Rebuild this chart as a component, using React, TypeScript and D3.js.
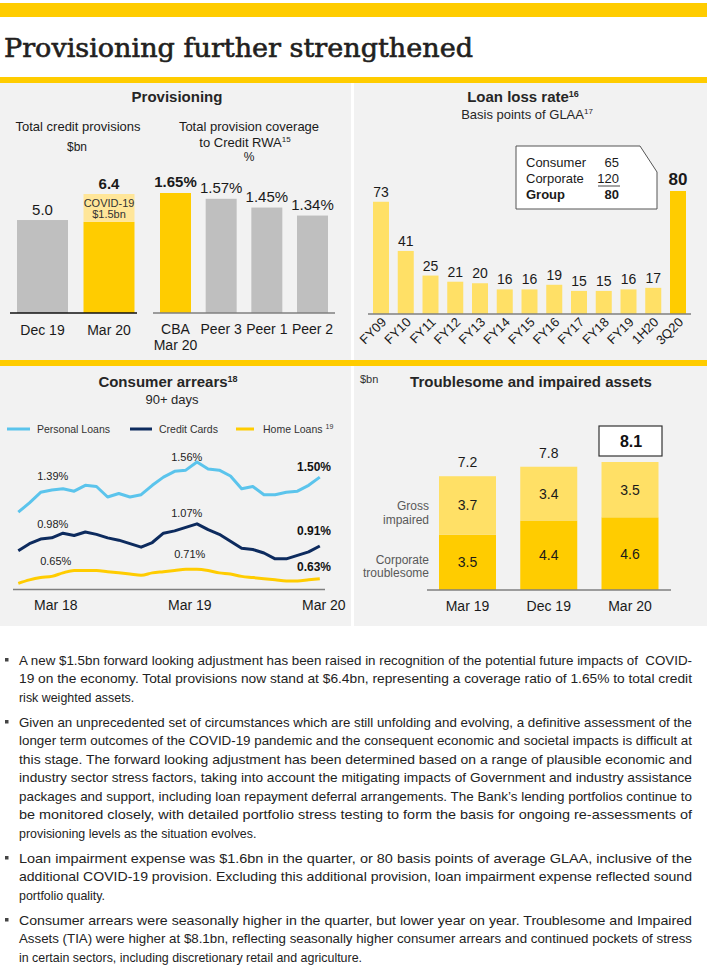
import React from "react";
import * as d3 from "d3";

// ---------- data ----------
const provCats = ["Dec 19", "Mar 20"];
const provCore = [5.0, 4.9];
const provCovid = [0, 1.5];
const provTotalLabels = ["5.0", "6.4"];

const covCats = ["CBA", "Peer 3", "Peer 1", "Peer 2"];
const covValues = [1.65, 1.57, 1.45, 1.34];
const covLabels = ["1.65%", "1.57%", "1.45%", "1.34%"];

const llrCats = ["FY09", "FY10", "FY11", "FY12", "FY13", "FY14", "FY15", "FY16", "FY17", "FY18", "FY19", "1H20", "3Q20"];
const llrValues = [73, 41, 25, 21, 20, 16, 16, 19, 15, 15, 16, 17, 80];

const arrMonths = [
  "Dec 17", "Jan 18", "Feb 18", "Mar 18", "Apr 18", "May 18", "Jun 18", "Jul 18", "Aug 18", "Sep 18", "Oct 18", "Nov 18",
  "Dec 18", "Jan 19", "Feb 19", "Mar 19", "Apr 19", "May 19", "Jun 19", "Jul 19", "Aug 19", "Sep 19", "Oct 19", "Nov 19",
  "Dec 19", "Jan 20", "Feb 20", "Mar 20",
];
const arrTicks = ["Mar 18", "Mar 19", "Mar 20"];
const personalLoans = [1.20, 1.28, 1.37, 1.39, 1.40, 1.38, 1.43, 1.42, 1.33, 1.36, 1.33, 1.35, 1.43, 1.50, 1.55, 1.56, 1.63, 1.57, 1.56, 1.51, 1.40, 1.42, 1.35, 1.35, 1.37, 1.38, 1.43, 1.50];
const creditCards = [0.87, 0.93, 0.97, 0.98, 1.02, 1.00, 1.03, 1.01, 0.98, 0.96, 0.93, 0.90, 0.94, 1.02, 1.04, 1.07, 1.10, 1.05, 1.01, 0.95, 0.89, 0.88, 0.85, 0.80, 0.80, 0.83, 0.86, 0.91];
const homeLoans = [0.59, 0.62, 0.64, 0.65, 0.68, 0.70, 0.70, 0.70, 0.69, 0.68, 0.67, 0.66, 0.68, 0.69, 0.70, 0.71, 0.71, 0.70, 0.68, 0.67, 0.65, 0.64, 0.63, 0.62, 0.61, 0.61, 0.62, 0.63];
const arrSeriesNames = ["Personal Loans", "Credit Cards", "Home Loans"];

const tiaCats = ["Mar 19", "Dec 19", "Mar 20"];
const tiaCorporate = [3.5, 4.4, 4.6];
const tiaGross = [3.7, 3.4, 3.5];
const tiaTotals = [7.2, 7.8, 8.1];

const paragraphs = [
  [
    "A new $1.5bn forward looking adjustment has been raised in recognition of the potential future impacts of  COVID-",
    "19 on the economy. Total provisions now stand at $6.4bn, representing a coverage ratio of 1.65% to total credit",
    "risk weighted assets.",
  ],
  [
    "Given an unprecedented set of circumstances which are still unfolding and evolving, a definitive assessment of the",
    "longer term outcomes of the COVID-19 pandemic and the consequent economic and societal impacts is difficult at",
    "this stage. The forward looking adjustment has been determined based on a range of plausible economic and",
    "industry sector stress factors, taking into account the mitigating impacts of Government and industry assistance",
    "packages and support, including loan repayment deferral arrangements. The Bank\u2019s lending portfolios continue to",
    "be monitored closely, with detailed portfolio stress testing to form the basis for ongoing re-assessments of",
    "provisioning levels as the situation evolves.",
  ],
  [
    "Loan impairment expense was $1.6bn in the quarter, or 80 basis points of average GLAA, inclusive of the",
    "additional COVID-19 provision. Excluding this additional provision, loan impairment expense reflected sound",
    "portfolio quality.",
  ],
  [
    "Consumer arrears were seasonally higher in the quarter, but lower year on year. Troublesome and Impaired",
    "Assets (TIA) were higher at $8.1bn, reflecting seasonally higher consumer arrears and continued pockets of stress",
    "in certain sectors, including discretionary retail and agriculture.",
  ],
];
const paraStarts = [660, 722, 858, 920];

// ---------- styles ----------
const FONT = "'Liberation Sans', Arial, Helvetica, sans-serif";
const YEL = "#ffcc00";
const YEL_LIGHT = "#ffe066";
const COVID_LIGHT = "#ffe699";
const GREY_BAR = "#bfbfbf";
const PANEL = "#f2f2f2";
const TXT = "#1a1a1a";
const SX = 0.92;

export default function App() {
  // provisions
  const xProv = d3.scalePoint<string>().domain(provCats).range([42.5, 109]);
  const yProv = d3.scaleLinear().domain([0, 6.4]).range([313, 194]);
  const provW = 51;

  const xCov = d3.scalePoint<string>().domain(covCats).range([175.5, 312.5]);
  const yCov = d3.scaleLinear().domain([0, 1.65]).range([313, 193]);
  const covW = 31;

  // loan loss
  const xLlr = d3.scalePoint<string>().domain(llrCats).range([381, 678]);
  const yLlr = d3.scaleLinear().domain([0, 80]).range([314, 191]);
  const llrW = 16;

  // arrears
  const xArr = d3.scalePoint<string>().domain(arrMonths).range([18.3, 319.8]);
  const yArr = d3.scaleLinear().domain([0.54, 1.39]).range([589.2, 490]);
  const lineGen = d3
    .line<number>()
    .x((_, i) => xArr(arrMonths[i]) as number)
    .y((d) => yArr(d));
  const smoothGen = d3
    .line<number>()
    .x((_, i) => xArr(arrMonths[i]) as number)
    .y((d) => yArr(d))
    .curve(d3.curveMonotoneX);
  const arrColors = ["#5bc4ec", "#0d2b5e", YEL];

  const arrLabels = [
    { s: personalLoans, m: "Mar 18", off: 10 },
    { s: creditCards, m: "Mar 18", off: 10 },
    { s: homeLoans, m: "Mar 18", off: 11 },
    { s: personalLoans, m: "Mar 19", off: 9 },
    { s: creditCards, m: "Mar 19", off: 10 },
    { s: homeLoans, m: "Mar 19", off: 11 },
  ];
  const endLabels = [
    { s: personalLoans, off: 6 },
    { s: creditCards, off: 11 },
    { s: homeLoans, off: 8 },
  ];

  // TIA
  const xTia = d3.scalePoint<string>().domain(tiaCats).range([467.5, 630]);
  const yTia = d3.scaleLinear().domain([0, 8.1]).range([590, 462]);
  const tiaW = 57;

  const fmtPct = (v: number) => v.toFixed(2) + "%";

  return (
    <svg
      width={707}
      height={976}
      style={{ position: "absolute", left: 0, top: 0, background: "#fff" }}
      fontFamily={FONT}
    >
      {/* header */}
      <rect x={0} y={3} width={707} height={14} fill={YEL} />
      <text
        x={4}
        y={57}
        fontFamily="'DejaVu Serif', serif"
        fontSize={26}
        fill="#231f20"
        stroke="#231f20"
        strokeWidth={0.6}
        textLength={469}
        lengthAdjust="spacingAndGlyphs"
      >
        Provisioning further strengthened
      </text>
      <rect x={0} y={77} width={707} height={6} fill={YEL} />

      {/* panels */}
      <rect x={0} y={83} width={351} height={277} fill={PANEL} />
      <rect x={354} y={83} width={353} height={277} fill={PANEL} />
      <rect x={0} y={360} width={707} height={6} fill={YEL} />
      <rect x={0} y={366} width={351} height={260} fill={PANEL} />
      <rect x={354} y={366} width={353} height={260} fill={PANEL} />

      {/* ---------- Provisioning panel ---------- */}
      <text x={177} y={102} textAnchor="middle" fontSize={15} fontWeight="bold" fill="#262626">
        Provisioning
      </text>
      <text x={78} y={131} textAnchor="middle" fontSize={13} fill={TXT}>
        Total credit provisions
      </text>
      <text x={77} y={151} textAnchor="middle" fontSize={12} fill={TXT}>
        $bn
      </text>
      <text x={249} y={131} textAnchor="middle" fontSize={13} fill={TXT}>
        Total provision coverage
      </text>
      <text x={245} y={147} textAnchor="middle" fontSize={13} fill={TXT}>
        to Credit RWA
        <tspan fontSize={8} dy={-5}>
          15
        </tspan>
      </text>
      <text x={249} y={161} textAnchor="middle" fontSize={12} fill={TXT}>
        %
      </text>

      {provCats.map((c, i) => {
        const cx = xProv(c) as number;
        const coreTop = yProv(provCore[i]);
        const totTop = yProv(provCore[i] + provCovid[i]);
        return (
          <g key={c}>
            <rect
              x={cx - provW / 2}
              y={coreTop}
              width={provW}
              height={yProv(0) - coreTop}
              fill={i === 0 ? GREY_BAR : YEL}
            />
            {provCovid[i] > 0 && (
              <rect x={cx - provW / 2} y={totTop} width={provW} height={coreTop - totTop} fill={COVID_LIGHT} />
            )}
            <text
              x={cx}
              y={totTop - 5}
              textAnchor="middle"
              fontSize={15}
              fontWeight={i === 1 ? "bold" : "normal"}
              fill={TXT}
            >
              {provTotalLabels[i]}
            </text>
            <text x={cx} y={335} textAnchor="middle" fontSize={14} fill={TXT}>
              {c}
            </text>
          </g>
        );
      })}
      <text x={xProv("Mar 20") as number} y={207} textAnchor="middle" fontSize={11} fill="#333">
        COVID-19
      </text>
      <text x={xProv("Mar 20") as number} y={218} textAnchor="middle" fontSize={11} fill="#333">
        $1.5bn
      </text>
      <line x1={10} x2={137} y1={313} y2={313} stroke="#111" strokeWidth={1.5} />

      {covCats.map((c, i) => {
        const cx = xCov(c) as number;
        const top = yCov(covValues[i]);
        return (
          <g key={c}>
            <rect x={cx - covW / 2} y={top} width={covW} height={yCov(0) - top} fill={i === 0 ? YEL : GREY_BAR} />
            <text
              x={cx}
              y={top - 6}
              textAnchor="middle"
              fontSize={15}
              fontWeight={i === 0 ? "bold" : "normal"}
              fill={TXT}
            >
              {covLabels[i]}
            </text>
            <text x={cx} y={334} textAnchor="middle" fontSize={14} fill={TXT}>
              {c}
            </text>
            {i === 0 && (
              <text x={cx} y={350} textAnchor="middle" fontSize={14} fill={TXT}>
                Mar 20
              </text>
            )}
          </g>
        );
      })}
      <line x1={153} x2={335} y1={313} y2={313} stroke="#7f7f7f" strokeWidth={1.5} />

      {/* ---------- Loan loss rate ---------- */}
      <text x={523} y={102} textAnchor="middle" fontSize={15} fontWeight="bold" fill="#262626">
        Loan loss rate
        <tspan fontSize={9} dy={-5}>
          16
        </tspan>
      </text>
      <text x={527} y={119} textAnchor="middle" fontSize={13} fill="#262626">
        Basis points of GLAA
        <tspan fontSize={8} dy={-5}>
          17
        </tspan>
      </text>
      {llrCats.map((c, i) => {
        const cx = xLlr(c) as number;
        const top = yLlr(llrValues[i]);
        const last = i === llrCats.length - 1;
        return (
          <g key={c}>
            <rect x={cx - llrW / 2} y={top} width={llrW} height={yLlr(0) - top} fill={last ? YEL : YEL_LIGHT} />
            <text
              x={cx}
              y={top - (last ? 6 : 5)}
              textAnchor="middle"
              fontSize={last ? 17 : 14}
              fontWeight={last ? "bold" : "normal"}
              fill={TXT}
            >
              {llrValues[i]}
            </text>
            <text
              transform={`translate(${cx + 6},${yLlr(0) + 9}) rotate(-45)`}
              textAnchor="end"
              fontSize={13}
              fill={TXT}
            >
              {c}
            </text>
          </g>
        );
      })}
      <line x1={368} x2={691} y1={314} y2={314} stroke="#7f7f7f" strokeWidth={1.5} />
      <path d="M516,146 H640 L657,172 V209 H516 Z" fill="#fff" stroke="#555" strokeWidth={1} />
      <text x={526} y={167} fontSize={13} fill={TXT}>
        Consumer
      </text>
      <text x={619} y={167} fontSize={13} fill={TXT} textAnchor="end">
        65
      </text>
      <text x={526} y={183} fontSize={13} fill={TXT}>
        Corporate
      </text>
      <text x={619} y={183} fontSize={13} fill={TXT} textAnchor="end">
        120
      </text>
      <line x1={598} x2={620} y1={186} y2={186} stroke={TXT} strokeWidth={0.8} />
      <text x={526} y={199} fontSize={13} fill={TXT} fontWeight="bold">
        Group
      </text>
      <text x={619} y={199} fontSize={13} fill={TXT} textAnchor="end" fontWeight="bold">
        80
      </text>

      {/* ---------- Consumer arrears ---------- */}
      <text x={168} y={387} textAnchor="middle" fontSize={15} fontWeight="bold" fill="#262626">
        Consumer arrears
        <tspan fontSize={9} dy={-5}>
          18
        </tspan>
      </text>
      <text x={172} y={404} textAnchor="middle" fontSize={13} fill="#262626">
        90+ days
      </text>
      {/* legend */}
      {[
        { x1: 7, x2: 30, tx: 37 },
        { x1: 130, x2: 152, tx: 159 },
        { x1: 236, x2: 254, tx: 263 },
      ].map((l, i) => (
        <g key={i}>
          <line x1={l.x1} x2={l.x2} y1={429} y2={429} stroke={arrColors[i]} strokeWidth={3} />
          <text x={l.tx} y={432.5} fontSize={10.5} fill="#333">
            {arrSeriesNames[i]}
            {i === 2 && (
              <tspan fontSize={7} dx={3} dy={-4}>
                19
              </tspan>
            )}
          </text>
        </g>
      ))}
      <line x1={13} x2={325} y1={589.5} y2={589.5} stroke="#7f7f7f" strokeWidth={1.5} />
      <path d={smoothGen(homeLoans) || ""} fill="none" stroke={arrColors[2]} strokeWidth={3} />
      <path d={lineGen(creditCards) || ""} fill="none" stroke={arrColors[1]} strokeWidth={3} strokeLinejoin="round" />
      <path d={lineGen(personalLoans) || ""} fill="none" stroke={arrColors[0]} strokeWidth={3} strokeLinejoin="round" />
      {arrLabels.map((l, i) => {
        const idx = arrMonths.indexOf(l.m);
        const v = l.s[idx] as number;
        return (
          <text
            key={i}
            x={(xArr(l.m) as number) + (l.s === homeLoans ? 4 : 1)}
            y={yArr(v) - l.off}
            textAnchor="middle"
            fontSize={11}
            fill="#222"
          >
            {fmtPct(v)}
          </text>
        );
      })}
      {endLabels.map((l, i) => (
        <text
          key={i}
          x={331}
          y={yArr(l.s[l.s.length - 1]) - l.off}
          textAnchor="end"
          fontSize={12}
          fontWeight="bold"
          fill="#111"
        >
          {fmtPct(l.s[l.s.length - 1])}
        </text>
      ))}
      {arrTicks.map((t) => (
        <text key={t} x={(xArr(t) as number) + 4} y={610} textAnchor="middle" fontSize={14} fill={TXT}>
          {t}
        </text>
      ))}

      {/* ---------- TIA ---------- */}
      <text x={360} y={383} fontSize={11} fill="#333">
        $bn
      </text>
      <text x={531} y={387} textAnchor="middle" fontSize={15} fontWeight="bold" fill="#262626">
        Troublesome and impaired assets
      </text>
      {tiaCats.map((c, i) => {
        const cx = xTia(c) as number;
        const split = yTia(tiaCorporate[i]);
        const top = yTia(tiaCorporate[i] + tiaGross[i]);
        const last = i === tiaCats.length - 1;
        return (
          <g key={c}>
            <rect x={cx - tiaW / 2} y={split} width={tiaW} height={yTia(0) - split} fill={YEL} />
            <rect x={cx - tiaW / 2} y={top} width={tiaW} height={split - top} fill={YEL_LIGHT} />
            <text x={cx} y={(split + yTia(0)) / 2 + 5} textAnchor="middle" fontSize={14} fill={TXT}>
              {tiaCorporate[i].toFixed(1)}
            </text>
            <text x={cx} y={(split + top) / 2 + 5} textAnchor="middle" fontSize={14} fill={TXT}>
              {tiaGross[i].toFixed(1)}
            </text>
            {last ? (
              <g>
                <rect x={cx - 31} y={426} width={63} height={30} fill="#fff" stroke="#333" strokeWidth={1.2} />
                <text x={cx + 1} y={447} textAnchor="middle" fontSize={16} fontWeight="bold" fill="#111">
                  {tiaTotals[i].toFixed(1)}
                </text>
              </g>
            ) : (
              <text x={cx} y={top - 9} textAnchor="middle" fontSize={14} fill={TXT}>
                {tiaTotals[i].toFixed(1)}
              </text>
            )}
            <text x={cx} y={611} textAnchor="middle" fontSize={14} fill={TXT}>
              {c}
            </text>
          </g>
        );
      })}
      <line x1={427} x2={671} y1={590} y2={590} stroke="#7f7f7f" strokeWidth={1.5} />
      <text x={429} y={510} textAnchor="end" fontSize={12} fill="#595959">
        Gross
      </text>
      <text x={429} y={524} textAnchor="end" fontSize={12} fill="#595959">
        impaired
      </text>
      <text x={429} y={564} textAnchor="end" fontSize={12} fill="#595959">
        Corporate
      </text>
      <text x={429} y={577} textAnchor="end" fontSize={12} fill="#595959">
        troublesome
      </text>

      {/* ---------- commentary ---------- */}
      {paragraphs.map((p, pi) => (
        <g key={pi}>
          <rect x={5} y={paraStarts[pi] - 2} width={3.5} height={3.5} fill="#444" />
          <g transform={`scale(${SX},1)`}>
            {p.map((line, li) => {
              const justify = li < p.length - 1;
              return (
                <text
                  key={li}
                  x={19 / SX}
                  y={paraStarts[pi] + li * 18.5 + 5}
                  fontSize={13.5}
                  fill="#222"
                  style={{ whiteSpace: "pre" }}
                  {...(justify ? { textLength: 673 / SX, lengthAdjust: "spacingAndGlyphs" } : {})}
                >
                  {line}
                </text>
              );
            })}
          </g>
        </g>
      ))}
    </svg>
  );
}
